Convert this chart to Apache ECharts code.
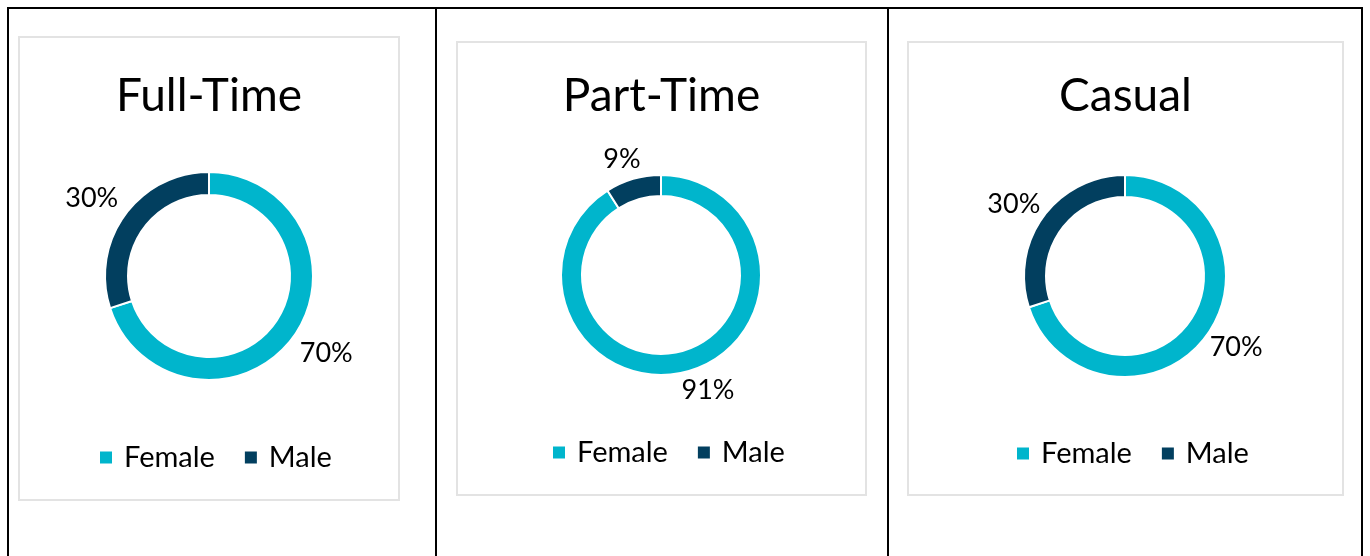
<!DOCTYPE html>
<html>
<head>
<meta charset="utf-8">
<script src="https://cdn.jsdelivr.net/npm/echarts@6/dist/echarts.min.js"></script>
<style>
    body { margin: 0; background: #fff; width: 1370px; height: 556px; position: relative; overflow: hidden; }
    .line { position: absolute; background: #000; }
    .box { position: absolute; border: 2px solid #e3e3e3; box-sizing: border-box; }
</style>
</head>
<body>
<!-- table grid -->
<div class="line" style="left:7px;top:7px;width:1356px;height:2px"></div>
<div class="line" style="left:7px;top:7px;width:2px;height:549px"></div>
<div class="line" style="left:435px;top:7px;width:2px;height:549px"></div>
<div class="line" style="left:887px;top:7px;width:2px;height:549px"></div>
<div class="line" style="left:1361px;top:7px;width:2px;height:549px"></div>

<div id="fullTimeChart" class="box" style="left:18px;top:36px;width:382px;height:465px"></div>
<div id="partTimeChart" class="box" style="left:456px;top:41px;width:411px;height:455px"></div>
<div id="casualChart" class="box" style="left:907px;top:41px;width:437px;height:455px"></div>

<script>
const categories = ['Female', 'Male'];
const chartTitles = ['Full-Time', 'Part-Time', 'Casual'];
const fullTimeValues = [70, 30];
const partTimeValues = [91, 9];
const casualValues = [70, 30];
const sliceColors = ['#00b5cc', '#023f5f'];

const fontFamily = 'Lato, sans-serif';

var fullTimeChart = echarts.init(document.getElementById('fullTimeChart'));
var partTimeChart = echarts.init(document.getElementById('partTimeChart'));
var casualChart = echarts.init(document.getElementById('casualChart'));

function renderDonut(chart, titleText, values, layout) {
    // ECharts configuration
    let option = {
        animation: false,
        title: {
            text: titleText,
            left: 'center',
            top: layout.titleTop,
            textStyle: {
                fontFamily: fontFamily,
                fontSize: 46,
                fontWeight: 'normal',
                color: '#000'
            }
        },
        legend: {
            data: categories,
            left: layout.legendLeft,
            top: layout.legendTop,
            icon: 'rect',
            itemWidth: 14,
            itemHeight: 14,
            itemGap: 28,
            textStyle: {
                fontFamily: fontFamily,
                fontSize: 29,
                color: '#000',
                padding: [0, 0, 0, 6]
            }
        },
        series: [
            {
                name: titleText,
                type: 'pie',
                center: layout.center,
                radius: layout.radius,
                startAngle: 90,
                clockwise: true,
                avoidLabelOverlap: false,
                itemStyle: {
                    borderColor: '#fff',
                    borderWidth: 2
                },
                label: {
                    show: true,
                    position: 'outside',
                    formatter: '{c}%',
                    fontFamily: fontFamily,
                    fontSize: 27,
                    color: '#000',
                    distanceToLabelLine: layout.labelDistance
                },
                labelLine: {
                    show: false,
                    length: layout.labelLength,
                    length2: 0
                },
                emphasis: { disabled: true },
                data: categories.map((name, i) => ({
                    name: name,
                    value: values[i],
                    itemStyle: { color: sliceColors[i] }
                }))
            }
        ]
    };

    chart.setOption(option);
}

renderDonut(fullTimeChart, chartTitles[0], fullTimeValues, {
    titleTop: 30, legendLeft: 73, legendTop: 400, center: [189, 238], radius: [81, 104], labelLength: 28, labelDistance: -16
});
renderDonut(partTimeChart, chartTitles[1], partTimeValues, {
    titleTop: 25, legendLeft: 88, legendTop: 390, center: [203, 232], radius: [79, 100], labelLength: 20, labelDistance: -13
});
renderDonut(casualChart, chartTitles[2], casualValues, {
    titleTop: 25, legendLeft: 101, legendTop: 391, center: [216, 233], radius: [79, 101], labelLength: 21, labelDistance: -14
});
</script>
</body>
</html>
